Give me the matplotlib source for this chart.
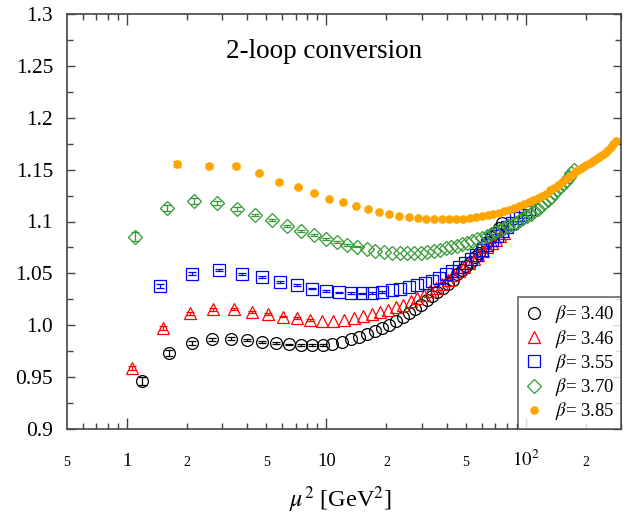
import matplotlib
matplotlib.use("Agg")
import matplotlib.pyplot as plt
from matplotlib.ticker import FixedLocator, NullFormatter
from matplotlib.transforms import blended_transform_factory

plt.rcParams['font.family'] = ['Liberation Serif', 'DejaVu Serif']
plt.rcParams['mathtext.fontset'] = 'stix'

# beta = 3.40
x340 = [1.19, 1.62, 2.12, 2.68, 3.31, 4.01, 4.77, 5.59, 6.49, 7.45, 8.47, 9.57, 10.72, 11.95,
        13.24, 14.6, 16.02, 17.51, 19.07, 20.7, 22.4, 24.1, 25.95, 27.8, 29.8, 31.8, 33.9, 36.0,
        38.3, 40.5, 42.9, 45.3, 47.8, 50.3, 53.0, 55.6, 58.4, 61.2, 64.1, 67.0, 70.0, 73.1, 76.3]
y340 = [0.946, 0.973, 0.983, 0.9865, 0.987, 0.986, 0.984, 0.9826, 0.9816, 0.9812, 0.9808, 0.981,
        0.9823, 0.984, 0.987, 0.989, 0.9915, 0.994, 0.997, 1.0005, 1.004, 1.008, 1.012, 1.0155,
        1.020, 1.024, 1.028, 1.032, 1.036, 1.040, 1.044, 1.049, 1.053, 1.057, 1.061, 1.066, 1.070,
        1.075, 1.080, 1.085, 1.089, 1.094, 1.099]
e340 = [0.004, 0.003, 0.002, 0.0015, 0.0012, 0.001, 0.001, 0.001, 0.0008, 0.0008, 0.0008, 0.0007]

# beta = 3.46
x346 = [1.056, 1.52, 2.07, 2.70, 3.42, 4.22, 5.11, 6.08, 7.14, 8.28, 9.50, 10.81, 12.2, 13.7,
        15.25, 16.9, 18.6, 20.4, 22.3, 24.3, 26.4, 28.5, 30.8, 33.1, 35.5, 38.0, 40.6, 43.2, 46.0,
        48.8, 51.7, 54.7, 57.8, 61.0, 64.2, 67.6, 71.0, 74.5, 78.1]
y346 = [0.9585, 0.997, 1.0115, 1.0154, 1.0154, 1.013, 1.0105, 1.0083, 1.0067, 1.0052, 1.0045,
        1.0045, 1.0055, 1.0072, 1.009, 1.011, 1.013, 1.015, 1.0175, 1.020, 1.023, 1.026, 1.029,
        1.033, 1.036, 1.040, 1.044, 1.048, 1.052, 1.056, 1.060, 1.064, 1.068, 1.072, 1.0755,
        1.079, 1.0825, 1.086, 1.089]
e346 = [0.002, 0.002, 0.0015, 0.0012, 0.001, 0.001, 0.001, 0.0008, 0.0008, 0.0008]

# beta = 3.55
x355 = [1.47, 2.12, 2.88, 3.76, 4.76, 5.88, 7.11, 8.46, 9.93, 11.52, 13.22, 15.04, 16.98, 19.04,
        21.2, 23.5, 25.9, 28.4, 31.1, 33.8, 36.7, 39.7, 42.8, 46.1, 49.4, 52.9, 56.5, 60.2, 64.0,
        67.9, 72.0, 76.2, 80.4, 84.8, 89.4, 94.0, 98.8, 103.6]
y355 = [1.0378, 1.0497, 1.0533, 1.0497, 1.0462, 1.0414, 1.0385, 1.0353, 1.0333, 1.0318, 1.031,
        1.0308, 1.031, 1.032, 1.0335, 1.035, 1.037, 1.0385, 1.0405, 1.043, 1.046, 1.049, 1.052,
        1.056, 1.060, 1.064, 1.068, 1.073, 1.077, 1.082, 1.086, 1.091, 1.095, 1.099, 1.103,
        1.1065, 1.1095, 1.112]
e355 = [0.002, 0.0015, 0.0012, 0.001, 0.001, 0.001, 0.0008, 0.0008, 0.0008, 0.0007, 0.0007,
        0.0007, 0.0006, 0.0006]

# beta = 3.70
x370 = [1.10, 1.585, 2.157, 2.817, 3.565, 4.40, 5.33, 6.34, 7.44, 8.63, 9.90, 11.27, 12.72,
        14.26, 15.89, 17.6, 19.4, 21.3, 23.3, 25.35, 27.5, 29.75, 32.1, 34.5, 37.0, 39.6, 42.3,
        45.1, 47.9, 50.9, 53.9, 57.0, 60.3, 63.6, 67.0, 70.4, 74.0, 77.6, 81.4, 85.2, 89.1, 93.1,
        97.2, 101.4, 105.7, 110.0, 114.5, 119.0, 123.6, 128.4, 133.2, 138.0, 143.0, 148.1, 153.2,
        158.5, 163.8, 169.2, 174.7]
y370 = [1.0854, 1.1133, 1.1198, 1.1175, 1.112, 1.1063, 1.1014, 1.0957, 1.0911, 1.0867, 1.083,
        1.080, 1.0775, 1.0757, 1.0735, 1.0718, 1.0705, 1.0698, 1.0693, 1.0692, 1.0695, 1.0700,
        1.0708, 1.0718, 1.0728, 1.074, 1.0752, 1.0766, 1.078, 1.0797, 1.0813, 1.083, 1.0845,
        1.086, 1.088, 1.090, 1.092, 1.0935, 1.0955, 1.097, 1.099, 1.101, 1.103, 1.105, 1.107,
        1.110, 1.1125, 1.115, 1.118, 1.121, 1.124, 1.127, 1.130, 1.133, 1.136, 1.1395, 1.143,
        1.147, 1.150]
e370 = [0.004, 0.003, 0.0025, 0.002, 0.0015, 0.0012, 0.001, 0.001, 0.001, 0.0008, 0.0008,
        0.0008, 0.0007, 0.0007]

# beta = 3.85
x385 = [1.789, 2.576, 3.506, 4.58, 5.80, 7.16, 8.66, 10.30, 12.09, 14.03, 16.10, 18.32, 20.68,
        23.18, 25.83, 28.62, 31.56, 34.63, 37.85, 41.2, 44.7, 48.4, 52.2, 56.1, 60.2, 64.4, 68.8,
        73.3, 77.9, 82.7, 87.7, 92.7, 98.0, 103.3, 108.8, 114.5, 120.3, 126.2, 132.3, 138.5,
        144.9, 151.4, 158.1, 164.9, 171.8, 178.9, 186.1, 193.5, 201.0, 208.7, 216.5, 224.4,
        232.5, 240.7, 249.1, 257.6, 266.3, 275.1, 284.0]
y385 = [1.1554, 1.1538, 1.1538, 1.1465, 1.1378, 1.133, 1.1278, 1.1218, 1.1188, 1.1152, 1.1118,
        1.1093, 1.1077, 1.1056, 1.1042, 1.1031, 1.1025, 1.1021, 1.1020, 1.1021, 1.1024, 1.1028,
        1.1036, 1.1044, 1.1052, 1.1062, 1.1073, 1.1085, 1.1097, 1.1110, 1.1128, 1.1145, 1.1165,
        1.1185, 1.1205, 1.1225, 1.1245, 1.1268, 1.1300, 1.1325, 1.1352, 1.1378, 1.1405, 1.1432,
        1.1455, 1.1482, 1.1505, 1.1525, 1.1545, 1.1565, 1.1585, 1.1605, 1.1625, 1.1645, 1.1665,
        1.1690, 1.1715, 1.1745, 1.1776]
e385 = [0.003, 0.002, 0.0018, 0.0015, 0.0012, 0.001, 0.001]

series = [
    (x340, y340, e340, 'o', 'black', 'none', 8.5, r'$\beta$= 3.40'),
    (x346, y346, e346, '^', 'red', 'none', 8.5, r'$\beta$= 3.46'),
    (x355, y355, e355, 's', 'blue', 'none', 8.0, r'$\beta$= 3.55'),
    (x370, y370, e370, 'D', '#339933', 'none', 6.8, r'$\beta$= 3.70'),
    (x385, y385, e385, 'o', 'orange', 'orange', 5.3, r'$\beta$= 3.85'),
]

fig = plt.figure(figsize=(6.41, 5.19), dpi=100)
ax = fig.add_axes([67/641, 1 - 429/519, (621-67)/641, (429-14)/519])

for x, y, e, m, c, fc, ms, lab in series:
    n = len(e)
    ax.errorbar(x[:n], y[:n], yerr=e, fmt='none', ecolor=c, elinewidth=0.9,
                capsize=3, capthick=0.9)
    ax.plot(x, y, linestyle='none', marker=m, markersize=ms, markeredgecolor=c,
            markerfacecolor=fc, markeredgewidth=0.9, label=lab)

ax.set_xscale('log')
ax.set_xlim(0.5, 300)
ax.set_ylim(0.9, 1.3)

spine_c = '#444444'
for s in ax.spines.values():
    s.set_color(spine_c)
    s.set_linewidth(1.2)

# x ticks
major_x = [1, 10, 100]
minor_x = [0.6, 0.7, 0.8, 0.9, 2, 3, 4, 5, 6, 7, 8, 9, 20, 30, 40, 50, 60, 70, 80, 90, 200, 300]
ax.xaxis.set_major_locator(FixedLocator(major_x))
ax.xaxis.set_minor_locator(FixedLocator(minor_x))
ax.xaxis.set_major_formatter(NullFormatter())
ax.xaxis.set_minor_formatter(NullFormatter())

# y ticks
ax.set_yticks([0.9, 0.95, 1.0, 1.05, 1.1, 1.15, 1.2, 1.25, 1.3])
ax.set_yticklabels(['0.9', '0.95', '1.0', '1.05', '1.1', '1.15', '1.2', '1.25', '1.3'])
ax.set_yticks([0.925, 0.975, 1.025, 1.075, 1.125, 1.175, 1.225, 1.275], minor=True)

ax.tick_params(which='both', direction='in', top=True, right=True, color=spine_c, width=1.0)
ax.tick_params(axis='x', which='major', length=8)
ax.tick_params(axis='x', which='minor', length=4.5)
ax.tick_params(axis='y', which='major', length=6, labelsize=15.5, pad=10)
ax.tick_params(axis='y', which='minor', length=4)

# x tick labels placed on a common baseline
tr = blended_transform_factory(ax.transData, ax.transAxes)
big_labels = [(1, '1'), (10, '10'), (100, r'$10^2$')]
small_labels = [(0.5, '5'), (2, '2'), (5, '5'), (20, '2'), (50, '5'), (200, '2')]
for xv, t in big_labels:
    ax.text(xv, -0.089, t, transform=tr, ha='center', va='baseline', fontsize=13.5)
for xv, t in small_labels:
    ax.text(xv, -0.089, t, transform=tr, ha='center', va='baseline', fontsize=10)

fig.text(340/641, 1 - 500/519, r'$\mu^2$ [GeV$^2$]', ha='center', va='center', fontsize=17.5)

ax.text(0.464, 0.91, '2-loop conversion', transform=ax.transAxes, ha='center',
        va='center', fontsize=19.5)

leg = ax.legend(loc='lower right', borderaxespad=0, fontsize=13.5, frameon=True,
                fancybox=False, edgecolor=spine_c, handlelength=1.0, handletextpad=0.6,
                labelspacing=0.12, borderpad=0.35, numpoints=1)
leg.get_frame().set_linewidth(1.2)

fig.savefig('out.png', dpi=100)
